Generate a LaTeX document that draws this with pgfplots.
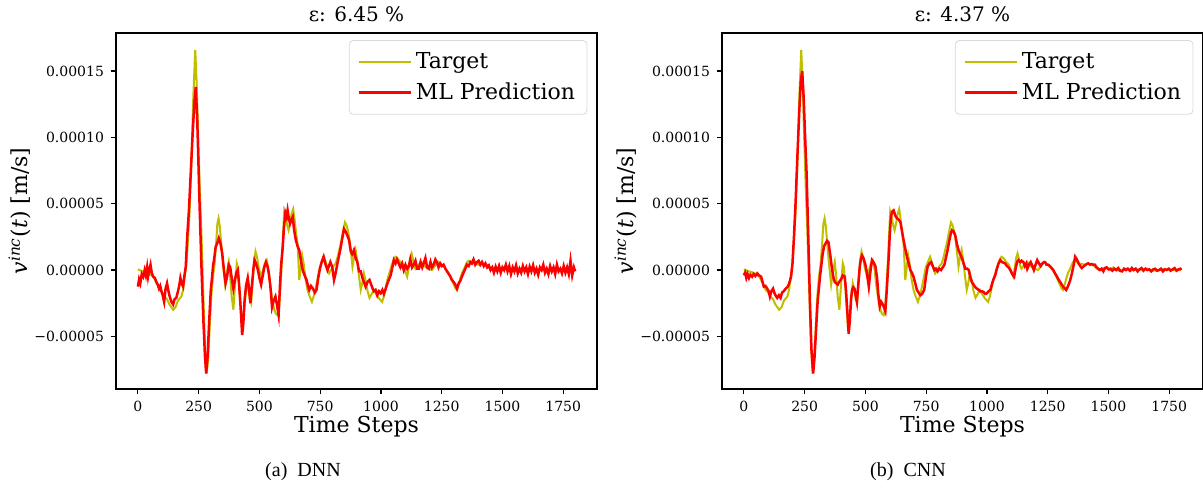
\documentclass[border=0pt]{standalone}
\usepackage{pgfplots}
\pgfplotsset{compat=1.18}
\usepackage{pgfplotstable}
\usepackage{fontspec}
\setmainfont{DejaVu Serif}
\newfontfamily\capfont{Liberation Serif}
\definecolor{olivey}{rgb}{0.75,0.75,0}

\pgfplotstableread{
t v
0 0.05
20 -0.1
40 -0.2
63 -0.5
75 -0.9
90 -1.5
100 -1.7
110 -2.0
120 -2.2
130 -2.6
145 -3.0
155 -2.8
165 -2.3
179 -2.0
186 -1.5
193 -0.5
200 0.5
207 2.5
213 4.5
220 8
228 13
236 16.6
242 14
248 10
255 6
261 3.0
267 -0.5
272 -3.5
277 -6
283 -7.8
289 -6.8
295 -4.5
302 -2.0
309 -0.5
316 0.5
322 2
327 3.5
332 3.9
337 3.3
343 2.0
350 0.5
359 -1.1
366 -0.2
374 0.6
380 -0.5
386 -2
393 -3.0
400 -1.0
407 0.5
412 0.2
418 -1.5
424 -3.2
429 -4.5
435 -3.5
442 -2
448 -1.0
455 -1.5
460 -2.2
466 -2.5
472 -1
478 0.6
484 1.4
490 1.0
497 0.2
507 -0.5
515 0
522 0.5
530 0.75
538 0
545 -1.2
555 -2.5
562 -3.0
568 -3.3
575 -3.4
580 -3.0
586 -1.5
592 0.5
597 2.5
602 4.4
608 4.0
614 3.4
620 3.0
626 3.5
632 4.2
639 4.6
645 3.8
651 2.8
657 2.0
661 0.5
664 -0.75
670 0.2
676 1.1
682 0.5
690 -0.7
698 -1.5
705 -1.9
716 -2.4
723 -2.0
730 -1.5
738 -0.8
744 -0.2
749 0.25
757 0.6
766 1.0
773 0.6
780 0.1
787 -0.25
795 0
805 0.3
814 0.5
822 1.0
828 1.5
835 2.0
843 2.8
852 3.6
858 3.4
864 3.0
869 2.5
876 1.5
883 0.25
889 0.9
896 1.5
902 0.8
910 -0.5
917 -1.5
923 -1.0
930 -0.25
937 -0.8
945 -1.6
953 -2.1
962 -1.8
971 -1.5
980 -1.8
990 -2.1
1000 -2.3
1005 -2.4
1012 -2.0
1019 -1.4
1026 -0.75
1035 -0.2
1045 0.4
1053 0.8
1060 1.0
1068 0.9
1080 0.6
1090 0.4
1100 -0.1
1108 -0.5
1115 0.2
1120 0.9
1126 1.25
1132 0.8
1137 0.3
1142 0.1
1150 0.3
1160 0.5
1167 0.6
1175 0.4
1185 0.2
1195 0.1
1210 0
1222 0.3
1237 0.6
1250 0.4
1262 0.2
1270 0
1279 -0.25
1290 -0.7
1300 -1.1
1307 -1.4
1313 -1.5
1320 -1.1
1327 -0.6
1334 -0.2
1340 0
1347 0.3
1354 0.6
1362 0.7
1370 0.6
1380 0.5
1392 0.45
1402 0.4
1415 0.5
1425 0.45
1434 0.4
1447 0.2
1460 0
1475 0.1
1490 0.2
1505 0.0
1520 0.2
1535 0.0
1550 -0.1
1565 0.1
1580 0.1
1595 -0.05
1610 0.1
1625 0
1640 0.05
1660 0.1
1680 -0.05
1700 -0.05
1720 0.05
1750 0.05
1775 0
1799 0
}\target

\pgfplotstableread{
t v
0 -1.25
5 -0.7
10 -1.0
16 -0.3
22 -0.5
28 0.0
33 -0.4
38 0.2
42 -0.5
47 0.0
52 0.4
57 -0.2
63 -0.5
70 -0.6
76 -0.9
82 -1.1
87 -1.4
92 -1.2
97 -1.6
102 -1.9
108 -2.4
114 -1.4
120 -1.0
126 -1.6
131 -2.0
138 -2.4
145 -2.6
151 -2.2
158 -2.1
165 -1.6
170 -1.2
175 -0.6
180 -1.0
186 -1.25
191 -0.5
197 0.25
203 2.5
210 4.5
218 7.5
226 10.5
232 12.5
238 13.8
244 11.5
250 7.5
254 4.8
262 0
270 -4
276 -6.5
281 -7.8
287 -6.5
293 -4
300 -1.5
305 -0.6
309 0.25
315 1.0
320 1.75
326 2.0
333 2.4
340 2.0
347 1.25
354 0
361 -1.0
367 -0.5
374 0.4
380 0.2
386 -0.6
393 -1.4
399 -0.8
405 -0.2
411 0
416 -1.0
421 -2.3
425 -3.5
429 -4.9
434 -4.0
439 -2.3
445 -1.2
452 -0.6
458 -1.5
463 -2.5
470 -1.0
476 0.2
480 0.75
486 0.5
494 0
500 -0.6
507 -1.1
513 -0.5
520 0.2
527 0.6
533 0.3
539 -0.3
545 -1.2
552 -2.8
559 -2.3
566 -2.0
572 -2.6
579 -3.4
585 -1.0
590 0.5
596 1.75
601 3.2
607 4.3
612 4.0
616 4.5
621 3.9
626 3.5
632 3.8
637 4.0
643 3.0
650 2.25
657 1.8
664 1.5
671 0.7
678 0
686 -0.4
694 -0.75
700 -1.2
705 -1.5
712 -1.2
720 -1.4
728 -1.7
735 -1.5
742 -0.6
749 0.1
756 0.6
764 1.0
771 0.5
780 0
786 0.3
792 0.6
800 0.2
807 -0.75
814 -0.2
821 0.5
828 1.1
835 1.75
841 2.4
848 3.1
855 2.9
862 2.6
869 2.25
876 1.4
882 1.2
889 1.5
896 0.9
903 0.6
910 -0.1
917 -0.1
924 -0.6
930 -0.9
937 -1.25
945 -0.9
953 -0.75
960 -1.1
966 -1.4
971 -1.6
978 -1.5
985 -1.9
992 -1.6
999 -1.75
1006 -1.5
1012 -1.8
1018 -1.5
1025 -1.1
1033 -0.7
1040 -0.4
1047 0.2
1053 0.75
1060 0.5
1066 0.8
1073 0.5
1080 0.2
1087 0.5
1094 0
1101 0.4
1108 0.1
1115 0.3
1121 0.8
1128 0.2
1135 0.4
1142 0.7
1149 0.1
1156 0.1
1163 0.6
1170 0.2
1176 0.5
1183 0.9
1190 0.2
1197 0.1
1204 0.6
1210 0.2
1217 0.4
1224 0.8
1230 0.6
1237 0.2
1244 0.5
1251 0.3
1258 0.4
1265 0.1
1272 -0.1
1279 -0.3
1286 -0.5
1292 -0.75
1299 -0.9
1306 -1.1
1313 -1.4
1320 -1.0
1327 -0.8
1333 -0.5
1340 -0.2
1347 0.1
1354 0.4
1361 0.3
1368 0.6
1374 0.5
1381 0.8
1388 0.4
1395 0.6
1402 0.7
1409 0.4
1416 0.6
1423 0.3
1430 0.5
1437 0.2
1444 0.35
1451 0.0
1458 0.2
1465 -0.2
1472 0.25
1479 -0.1
1486 0.3
1493 -0.2
1500 0.2
1507 0.0
1514 0.4
1521 -0.1
1528 0.3
1535 -0.3
1542 0.2
1549 -0.1
1556 0.35
1563 -0.25
1570 0.1
1577 -0.2
1584 0.3
1591 -0.1
1598 0.2
1605 -0.3
1612 0.25
1619 -0.1
1626 0.35
1633 -0.2
1640 0.1
1647 -0.35
1654 0.2
1661 0.0
1668 0.4
1675 -0.2
1682 0.1
1689 -0.3
1696 0.3
1703 -0.1
1710 0.2
1717 -0.3
1724 0.4
1731 -0.1
1738 0.1
1745 -0.25
1752 0.3
1759 -0.2
1766 0.2
1773 -0.3
1780 0.7
1787 -0.4
1794 0.2
1799 -0.1
}\dnn

\pgfplotstableread{
t v
0 -0.4
5 -0.2
10 -0.6
15 -0.3
21 -0.6
27 -0.35
34 -0.5
40 -0.3
47 -0.45
55 -0.25
62 -0.4
71 -0.5
77 -0.9
82 -1.25
89 -1.2
96 -1.4
102 -1.6
107 -2.0
113 -1.6
120 -1.4
127 -1.8
133 -2.0
137 -2.1
144 -1.9
151 -2.1
157 -1.7
164 -1.6
172 -1.4
181 -1.25
188 -0.9
194 -0.5
200 0.5
206 2.5
212 4.8
220 8.5
228 12
234 14.2
240 15.0
246 13
252 10
258 7.3
265 2.5
272 -2.5
278 -6
285 -7.8
291 -6.5
297 -4.5
303 -2.5
308 -1.5
313 -0.5
318 0.25
324 1.2
330 1.8
336 2.0
342 2.2
348 2.1
355 1.2
363 0
369 -0.6
374 -0.9
380 -1.0
386 -1.1
392 -0.9
400 -0.7
407 -0.4
415 -0.5
420 -1.5
426 -3.2
431 -4.8
436 -3.8
441 -2.2
445 -1.5
450 -1.3
455 -1.4
460 -1.9
465 -2.4
471 -1.0
477 0.3
482 0.9
486 1.1
492 0.9
500 0.4
507 -0.3
514 -1.25
520 -0.2
527 0.75
533 0.6
541 0.3
548 -0.6
553 -1.8
559 -2.75
565 -2.4
572 -2.6
578 -2.9
582 -3.1
588 -1.5
592 -0.2
596 1.0
600 2.6
605 4.0
610 4.4
616 4.5
623 4.1
630 3.9
637 3.8
644 3.6
650 3.0
657 2.25
664 1.6
671 1.0
678 0.5
685 0
691 -0.2
698 -0.5
705 -1.0
712 -1.5
719 -1.7
726 -1.9
733 -1.8
742 -1.5
749 -0.5
756 0.25
763 0.5
770 0.6
777 0.3
784 0
790 0.1
797 -0.1
804 0.1
811 0
818 0.2
825 0.4
831 0.9
838 1.5
845 2.2
852 2.8
856 3.0
863 2.9
870 2.6
876 2.0
883 1.5
890 1.2
897 0.9
904 0.5
911 0.1
918 0.1
925 0
931 -0.5
938 -0.9
945 -1.1
952 -1.3
959 -1.4
966 -1.5
972 -1.6
979 -1.6
986 -1.65
993 -1.8
1000 -1.75
1007 -1.6
1014 -1.5
1020 -1.1
1027 -0.7
1034 -0.4
1041 0.1
1048 0.5
1055 0.75
1062 0.6
1069 0.55
1075 0.5
1082 0.3
1089 0.2
1096 0
1104 -0.3
1112 -0.5
1118 0.1
1124 0.6
1130 0.75
1137 0.6
1143 0.7
1150 0.6
1156 0.3
1162 0.5
1166 0.1
1173 0.4
1180 0.6
1187 0.3
1193 0
1200 0.4
1207 0.75
1214 0.5
1221 0.3
1228 0.5
1235 0.6
1239 0.6
1245 0.4
1252 0.4
1259 0.3
1266 0.15
1273 0
1280 -0.25
1287 -0.45
1294 -0.7
1301 -0.9
1308 -1.1
1315 -1.3
1321 -1.4
1326 -1.5
1334 -1.2
1342 -0.8
1349 -0.3
1356 0.3
1363 1.0
1370 0.8
1377 0.5
1384 0.3
1390 0.15
1396 0.25
1403 0.35
1410 0.45
1417 0.5
1424 0.4
1431 0.45
1437 0.4
1444 0.4
1451 0.2
1458 0.1
1465 0
1472 0.1
1479 -0.1
1486 0.15
1493 0.2
1500 0.05
1508 0.1
1516 -0.05
1524 0.1
1532 0.0
1540 0.15
1548 -0.05
1556 -0.1
1564 0.1
1572 0.0
1580 0.1
1588 -0.05
1596 0.15
1604 0.0
1612 0.1
1620 -0.1
1628 0.05
1636 0.15
1644 -0.05
1652 0.1
1660 0.0
1668 0.05
1676 -0.1
1684 0.05
1692 0.1
1700 -0.05
1708 0.0
1716 0.1
1724 -0.1
1732 0.05
1740 0.0
1748 0.1
1756 -0.05
1764 0.05
1772 0.15
1780 -0.05
1788 0.05
1796 0.1
1799 0.0
}\cnn

\pgfplotsset{
  vplot/.style={
    scale only axis,
    width=240.5pt, height=178pt,
    anchor=south west,
    xmin=-90, xmax=1889,
    ymin=-8.97, ymax=17.87,
    xtick={0,250,...,1750},
    ytick={-5,0,5,10,15},
    yticklabels={−0.00005,0.00000,0.00005,0.00010,0.00015},
    /pgf/number format/1000 sep={},
    /pgf/number format/assume math mode=true,
    tick align=outside,
    xtick pos=bottom, ytick pos=left,
    major tick length=2.5pt,
    tick style={black, line width=0.6pt},
    axis line style={line width=1.2pt},
    tick label style={font=\fontsize{7}{8}\selectfont},
    label style={font=\fontsize{11}{13}\selectfont},
    xlabel={Time Steps},
    ylabel={\textit{v}\textsuperscript{\textit{inc}}(\textit{t}) [m/s]},
    xlabel style={at={(axis description cs:0.5,-0.107)}, anchor=center},
    ylabel style={at={(axis description cs:-0.2,0.5)}, anchor=center},
    title style={at={(axis description cs:0.5,1)}, anchor=center, yshift=3.5pt, font=\fontsize{10}{12}\selectfont},
    legend cell align=left,
    legend style={at={(axis description cs:0.98,0.98)}, anchor=north east,
      draw=black!15, rounded corners=2pt, font=\fontsize{11}{13}\selectfont,
      inner xsep=4pt, inner ysep=4pt, row sep=1.5pt},
    legend image code/.code={\draw[#1, line width=1.1pt] (0pt,0pt) -- (20.5pt,0pt); \path (0pt,0pt) -- (26pt,0pt);},
  }
}

\begin{document}
\begin{tikzpicture}
\useasboundingbox (0,0) rectangle (601.5pt,244pt);
\begin{axis}[vplot, at={(58pt,49.5pt)}, title={ε: 6.45 \%}]
\addplot[olivey, line width=1pt] table[x=t,y=v] {\target};
\addplot[red, line width=1.25pt] table[x=t,y=v] {\dnn};
\legend{Target, ML Prediction}
\end{axis}
\begin{axis}[vplot, at={(361pt,49.5pt)}, title={ε: 4.37 \%}]
\addplot[olivey, line width=1pt] table[x=t,y=v] {\target};
\addplot[red, line width=1.25pt] table[x=t,y=v] {\cnn};
\legend{Target, ML Prediction}
\end{axis}
\node[font=\capfont\fontsize{10}{12}\selectfont] at (151.5pt,8pt) {(a)\ \ DNN};
\node[font=\capfont\fontsize{10}{12}\selectfont] at (454pt,8pt) {(b)\ \ CNN};
\end{tikzpicture}
\end{document}
